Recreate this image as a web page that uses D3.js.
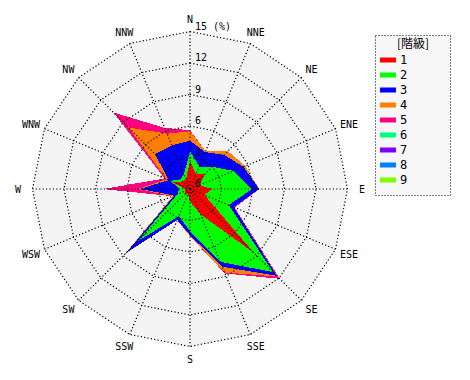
<!DOCTYPE html>
<html>
<head>
<meta charset="utf-8">
<script src="https://cdn.jsdelivr.net/npm/d3@7"></script>
<style>
  body { margin: 0; background: #fff; }
  text { font-family: "DejaVu Sans Mono", monospace; }
</style>
</head>
<body>
<div id="chart"></div>
<script>
// wind directions, clockwise from north
let directions = ['N', 'NNE', 'NE', 'ENE', 'E', 'ESE', 'SE', 'SSE', 'S', 'SSW', 'SW', 'WSW', 'W', 'WNW', 'NW', 'NNW']

// frequency (%) per class and direction
let class1 = [2.7, 1.5, 2.0, 1.0, 2.1, 1.5, 8.6, 2.6, 1.2, 0.5, 0.7, 0.5, 0.5, 1.8, 1.0, 1.0]
let class2 = [0.9, 0.8, 1.0, 3.5, 3.8, 2.5, 2.6, 4.9, 2.8, 2.3, 6.3, 0.8, 0.5, 0.2, 0.3, 0.5]
let class3 = [1.0, 1.5, 1.6, 1.0, 0.7, 0.5, 0.5, 0.5, 0.4, 0.4, 1.6, 0.3, 3.8, 0.2, 3.4, 3.0]
let class4 = [0.9, 0.1, 0.5, 0.2, 0.0, 0.0, 0.1, 0.6, 0.1, 0.0, 0.1, 0.2, 0.2, 0.2, 3.6, 1.2]
let class5 = [0.1, 0.0, 0.0, 0.0, 0.0, 0.1, 0.3, 0.1, 0.0, 0.0, 0.0, 0.0, 3.3, 0.2, 2.0, 0.6]
let class6 = [0, 0, 0, 0, 0, 0, 0, 0, 0, 0, 0, 0, 0, 0, 0, 0]
let class7 = [0, 0, 0, 0, 0, 0, 0, 0, 0, 0, 0, 0, 0, 0, 0, 0]
let class8 = [0, 0, 0, 0, 0, 0, 0, 0, 0, 0, 0, 0, 0, 0, 0, 0]
let class9 = [0, 0, 0, 0, 0, 0, 0, 0, 0, 0, 0, 0, 0, 0, 0, 0]

let classLabels = ['1', '2', '3', '4', '5', '6', '7', '8', '9']
let ringTicks = [3, 6, 9, 12, 15]

let classes = [class1, class2, class3, class4, class5, class6, class7, class8, class9]
let colors = ['#ff0000', '#00ff00', '#0000ff', '#ff8000', '#ff0080', '#00ff80', '#8000ff', '#0080ff', '#80ff00']

let width = 470, height = 380
let cx = 190, cy = 189

let svg = d3.select('#chart').append('svg')
    .attr('width', width)
    .attr('height', height)

let g = svg.append('g').attr('transform', 'translate(' + cx + ',' + cy + ')')

let r = d3.scaleLinear().domain([0, 15]).range([0, 157.5])
let angle = d3.scalePoint().domain(directions).range([0, 2 * Math.PI * 15 / 16])

let ring = d3.lineRadial()
    .angle(d => angle(d.dir))
    .radius(d => r(d.v))
    .curve(d3.curveLinearClosed)

// plot background
g.append('path')
    .attr('d', ring(directions.map(d => ({dir: d, v: 15}))))
    .attr('fill', '#f4f4f4')

// stacked polygons: cumulative values, outermost drawn first
let cumulative = []
let running = directions.map(() => 0)
classes.forEach(function (vals) {
    running = running.map((s, i) => s + vals[i])
    cumulative.push(running.slice())
})

for (let k = classes.length - 1; k >= 0; k--) {
    if (d3.sum(classes[k]) === 0) continue
    g.append('path')
        .attr('d', ring(directions.map((d, i) => ({dir: d, v: cumulative[k][i]}))))
        .attr('fill', colors[k])
        .attr('shape-rendering', 'crispEdges')
}

// grid rings
ringTicks.forEach(function (t) {
    g.append('path')
        .attr('d', ring(directions.map(d => ({dir: d, v: t}))))
        .attr('fill', 'none')
        .attr('stroke', '#000')
        .attr('stroke-width', 1.2)
        .attr('stroke-dasharray', '1.2,2.2')
})

// spokes
directions.forEach(function (d) {
    let a = angle(d)
    g.append('line')
        .attr('x1', 0).attr('y1', 0)
        .attr('x2', r(15) * Math.sin(a))
        .attr('y2', -r(15) * Math.cos(a))
        .attr('stroke', '#000')
        .attr('stroke-width', 1.2)
        .attr('stroke-dasharray', '1.2,2.2')
})

// direction labels
directions.forEach(function (d) {
    let a = angle(d)
    g.append('text')
        .attr('x', 172 * Math.sin(a))
        .attr('y', -170 * Math.cos(a) + 4)
        .attr('text-anchor', 'middle')
        .style('font-size', '10px')
        .text(d)
})

// ring labels
ringTicks.concat([0]).forEach(function (t) {
    g.append('text')
        .attr('x', 5)
        .attr('y', -r(t) - 2)
        .style('font-size', '10px')
        .text(t === 15 ? '15 (%)' : t)
})

g.append('circle').attr('r', 1.2).attr('fill', '#000')

// legend
let legend = svg.append('g')

legend.append('rect')
    .attr('x', 375.5).attr('y', 35.5)
    .attr('width', 75).attr('height', 160)
    .attr('fill', '#f7f7f7')
    .attr('stroke', '#000')
    .attr('stroke-dasharray', '1,2')

legend.append('text')
    .attr('x', 413).attr('y', 48)
    .attr('text-anchor', 'middle')
    .style('font-family', '"Noto Sans CJK JP", sans-serif')
    .style('font-size', '12px')
    .text('[階級]')

classLabels.forEach(function (lab, i) {
    let y = 60 + i * 15
    legend.append('line')
        .attr('x1', 380).attr('x2', 396)
        .attr('y1', y).attr('y2', y)
        .attr('stroke', colors[i])
        .attr('stroke-width', 5)
    legend.append('text')
        .attr('x', 400).attr('y', y + 4)
        .style('font-size', '12px')
        .text(lab)
})
</script>
</body>
</html>
